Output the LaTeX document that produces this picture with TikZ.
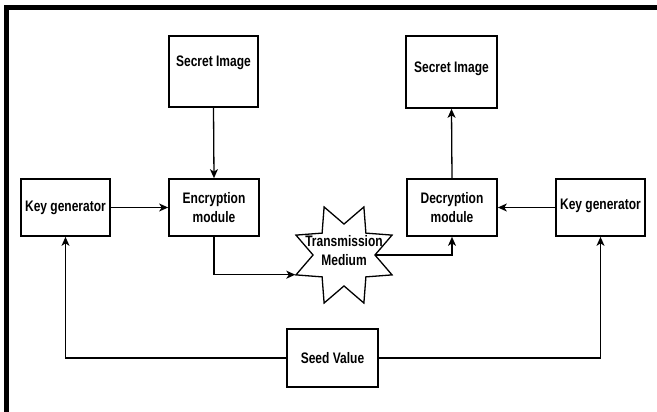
\documentclass[tikz,border=0pt]{standalone}
\usepackage{fontspec}
\setmainfont{Liberation Sans}
\usetikzlibrary{shapes.geometric,arrows.meta}
\newcommand{\stx}[1]{\scalebox{1}[1.27]{#1}}
\begin{document}
\begin{tikzpicture}[x=1pt,y=-1pt,
  box/.style={draw=black,line width=1.7pt,rectangle,inner sep=0pt,align=center,
    font=\bfseries\fontsize{12}{19}\selectfont},
  conn/.style={draw=black,line width=1.3pt,-{Stealth[length=9pt,width=8pt,inset=2.5pt]}},
  frameline/.style={draw=black,line width=4.5pt}
]
\useasboundingbox (0,0) rectangle (657,412);
\fill[white] (0,0) rectangle (657,412);
% frame
\coordinate (fbl) at (6.5,412);
\coordinate (ftl) at (6.5,7.5);
\coordinate (ftr) at (657,7.5);
\draw[frameline] (fbl) -- (ftl) -- (ftr);

% nodes
\node[box,minimum width=89pt,minimum height=71pt,text height=11pt,text depth=21pt] (sil) at (213.5,71.5) {\stx{Secret Image}};
\node[box,minimum width=91pt,minimum height=72pt,text height=11pt,text depth=9pt] (sir) at (451.5,72) {\stx{Secret Image}};
\node[box,minimum width=89pt,minimum height=57pt] (kgl) at (65.5,207.5) {\stx{Key generator}};
\node[box,minimum width=90pt,minimum height=57pt] (enc) at (214,207.5) {\stx{Encryption}\\\stx{module}};
\node[box,minimum width=90pt,minimum height=57pt] (dec) at (452,207.5) {\stx{Decryption}\\\stx{module}};
\node[box,minimum width=89pt,minimum height=57pt,text height=11pt,text depth=8pt] (kgr) at (600.5,207.5) {\stx{Key generator}};
\node[box,minimum width=91pt,minimum height=58pt] (seed) at (332.5,358) {\stx{Seed Value}};
\node[draw=black,line width=1.3pt,star,star points=8,star point ratio=1.68,
      shape border rotate=22.5,minimum size=104pt,inner sep=0pt,
      label={[align=center,font=\bfseries\fontsize{12}{19}\selectfont,yshift=4pt]center:\stx{Transmission}\\\stx{Medium}}] (tm) at (344,255) {};

% connectors
\draw[conn] (sil.south) -- (enc.north);
\draw[conn] (kgl.east) -- (enc.west);
\draw[conn] (enc.south) |- (tm.202.5);
\draw[conn] (tm.0) -| (dec.south);
\draw[conn] (dec.north) -- (sir.south);
\draw[conn] (kgr.west) -- (dec.east);
\draw[conn] (seed.west) -| (kgl.south);
\draw[conn] (seed.east) -| (kgr.south);
\end{tikzpicture}
\end{document}
